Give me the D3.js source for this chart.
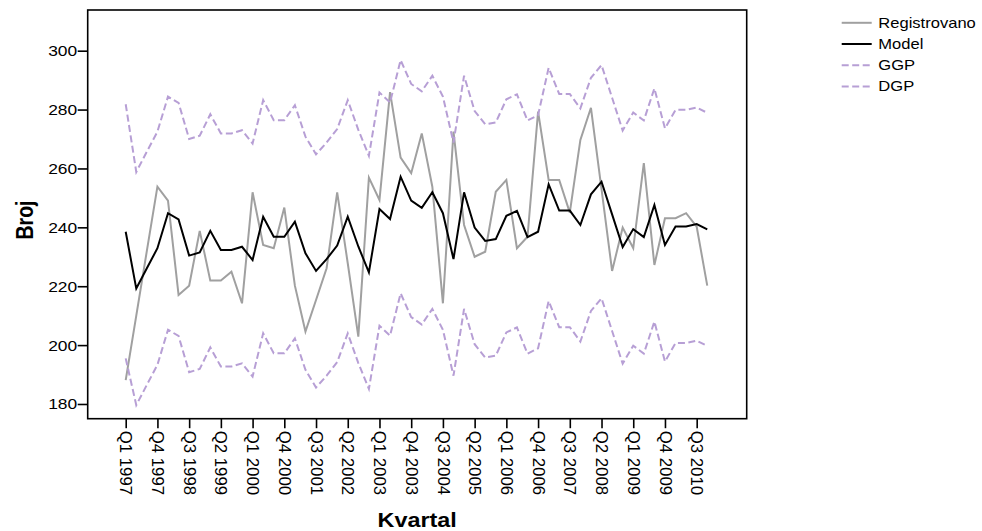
<!DOCTYPE html>
<html>
<head>
<meta charset="utf-8">
<script src="https://cdn.jsdelivr.net/npm/d3@7"></script>
<style>
  body { margin: 0; background: #fff; }
  svg { display: block; }
  text { font-family: "Liberation Sans", Arial, sans-serif; fill: #000; }
</style>
</head>
<body>
<svg id="chart" width="982" height="531"></svg>
<script>
// Quarterly categories, Q1 1997 – Q4 2010
const years = [1997, 1998, 1999, 2000, 2001, 2002, 2003, 2004, 2005, 2006, 2007, 2008, 2009, 2010];
const quarterNames = ["Q1", "Q2", "Q3", "Q4"];
const categories = years.flatMap(yr => quarterNames.map(q => `${q} ${yr}`));

// Labelled ticks on the category axis
const tickLabels = ["Q1 1997", "Q4 1997", "Q3 1998", "Q2 1999", "Q1 2000", "Q4 2000", "Q3 2001",
  "Q2 2002", "Q1 2003", "Q4 2003", "Q3 2004", "Q2 2005", "Q1 2006", "Q4 2006", "Q3 2007",
  "Q2 2008", "Q1 2009", "Q4 2009", "Q3 2010"];
const yTicks = [180, 200, 220, 240, 260, 280, 300];

// Observed counts
const registrovano = [188.1, 210.0, 232.0, 253.8, 249.1, 217.0, 220.2, 238.8, 221.9, 221.9,
  224.9, 214.2, 251.9, 234.0, 232.9, 246.7, 220.2, 204.6, 215.3, 226.1,
  251.9, 227.8, 202.9, 256.9, 249.3, 285.9, 263.7, 258.4, 271.9, 253.8,
  214.2, 272.5, 240.8, 230.0, 231.7, 252.1, 256.1, 232.9, 236.8, 279.3,
  256.1, 256.1, 245.0, 269.7, 280.6, 253.0, 225.2, 239.9, 232.9, 261.8,
  227.2, 243.1, 243.1, 244.8, 240.2, 220.2];

// Fitted model
const model = [238.5, 219.2, 226.1, 232.9, 244.8, 242.7, 230.4, 231.5, 238.8, 232.3,
  232.3, 233.4, 228.9, 243.6, 236.8, 236.8, 241.9, 231.2, 225.2, 229.2,
  233.8, 243.6, 233.5, 224.7, 246.2, 242.8, 257.2, 249.1, 246.6, 251.9,
  244.8, 229.2, 251.9, 239.9, 235.4, 236.0, 243.9, 245.6, 236.7, 238.5,
  254.6, 245.7, 245.7, 240.8, 251.2, 255.5, 244.4, 233.3, 239.4, 236.7,
  247.6, 234.0, 240.3, 240.3, 241.1, 239.3];

// Upper bound (GGP)
const ggp = [281.8, 258.8, 265.7, 272.5, 284.4, 282.3, 270.0, 271.1, 278.4, 271.9,
  271.9, 273.0, 268.5, 283.2, 276.4, 276.4, 281.5, 270.8, 264.8, 268.8,
  273.4, 283.2, 273.1, 264.3, 285.8, 282.4, 296.8, 288.7, 286.2, 291.5,
  284.4, 268.8, 291.5, 279.5, 275.0, 275.6, 283.5, 285.2, 276.3, 278.1,
  294.2, 285.3, 285.3, 280.4, 290.8, 295.1, 284.0, 272.9, 279.0, 276.3,
  287.2, 273.6, 279.9, 279.9, 280.7, 278.9];

// Lower bound (DGP)
const dgp = [195.5, 179.6, 186.5, 193.3, 205.2, 203.1, 190.8, 191.9, 199.2, 192.7,
  192.7, 193.8, 189.3, 204.0, 197.2, 197.2, 202.3, 191.6, 185.6, 189.6,
  194.2, 204.0, 193.9, 185.1, 206.6, 203.2, 217.6, 209.5, 207.0, 212.3,
  205.2, 189.6, 212.3, 200.3, 195.8, 196.4, 204.3, 206.0, 197.1, 198.9,
  215.0, 206.1, 206.1, 201.2, 211.6, 215.9, 204.8, 193.7, 199.8, 197.1,
  208.0, 194.4, 200.7, 200.7, 201.5, 199.7];

const seriesNames = ["Registrovano", "Model", "GGP", "DGP"];

// ---- drawing ----
const svg = d3.select("#chart");
const plot = { left: 87.7, right: 746.7, top: 10, bottom: 418.7 };
const hStretch = 1.2; // glyphs are drawn slightly wide

const styles = {
  Registrovano: { color: "#a0a0a0", dash: null },
  Model: { color: "#000000", dash: null },
  GGP: { color: "#b79fd5", dash: "7,3.5" },
  DGP: { color: "#b79fd5", dash: "7,3.5" }
};
const seriesData = { Registrovano: registrovano, Model: model, GGP: ggp, DGP: dgp };

const x = d3.scaleLinear()
  .domain([-3.594, categories.length + 2.73])
  .range([plot.left, plot.right]);
const y = d3.scaleLinear()
  .domain([175, 313.82])
  .range([plot.bottom, plot.top]);

// Series lines
const line = d3.line().x((d, i) => x(i)).y(d => y(d));
seriesNames.forEach(name => {
  const s = styles[name];
  svg.append("path")
    .datum(seriesData[name])
    .attr("d", line)
    .attr("fill", "none")
    .attr("stroke", s.color)
    .attr("stroke-width", 2)
    .attr("stroke-linejoin", "miter")
    .attr("stroke-dasharray", s.dash);
});

// Frame
svg.append("rect")
  .attr("x", plot.left).attr("y", plot.top)
  .attr("width", plot.right - plot.left).attr("height", plot.bottom - plot.top)
  .attr("fill", "none").attr("stroke", "#000").attr("stroke-width", 1.6);

// Y axis
const yAxis = svg.append("g")
  .attr("transform", `translate(${plot.left},0)`)
  .call(d3.axisLeft(y).tickValues(yTicks).tickSize(10).tickPadding(0).tickFormat(d3.format("d")));
yAxis.select(".domain").remove();
yAxis.selectAll(".tick line").attr("stroke", "#000").attr("stroke-width", 1.6);
yAxis.selectAll(".tick text")
  .attr("x", null).attr("dy", "0.34em")
  .attr("transform", `translate(-10.5,0) scale(${hStretch},1)`)
  .attr("text-anchor", "end")
  .style("font-size", "14.5px")
  .attr("fill", "#000");

// X axis
const tickIdx = tickLabels.map(l => categories.indexOf(l));
const xAxis = svg.append("g")
  .attr("transform", `translate(0,${plot.bottom})`)
  .call(d3.axisBottom(x).tickValues(tickIdx).tickSize(9.5).tickFormat(i => categories[i]));
xAxis.select(".domain").remove();
xAxis.selectAll(".tick line").attr("stroke", "#000").attr("stroke-width", 1.6);
xAxis.selectAll(".tick text")
  .attr("transform", "rotate(90)")
  .attr("x", 12).attr("y", 0).attr("dy", "0.35em")
  .attr("text-anchor", "start")
  .style("font-size", "16.8px")
  .attr("fill", "#000");

// Axis titles
svg.append("text")
  .attr("transform", `translate(417.2,527) scale(${hStretch},1)`)
  .attr("text-anchor", "middle")
  .style("font-size", "19.5px").style("font-weight", "bold")
  .text("Kvartal");
svg.append("text")
  .attr("transform", `translate(32.5,220) rotate(-90) scale(1,${hStretch})`)
  .attr("text-anchor", "middle")
  .style("font-size", "19.5px").style("font-weight", "bold")
  .text("Broj");

// Legend
const legend = svg.append("g");
seriesNames.forEach((name, i) => {
  const s = styles[name];
  const cy = 22.8 + i * 21.2;
  legend.append("line")
    .attr("x1", 841.7).attr("x2", 871.7).attr("y1", cy).attr("y2", cy)
    .attr("stroke", s.color).attr("stroke-width", 2)
    .attr("stroke-dasharray", s.dash);
  legend.append("text")
    .attr("transform", `translate(878.3,${cy}) scale(${hStretch},1)`)
    .attr("dy", "0.35em")
    .style("font-size", "13.8px")
    .text(name);
});
</script>
</body>
</html>
